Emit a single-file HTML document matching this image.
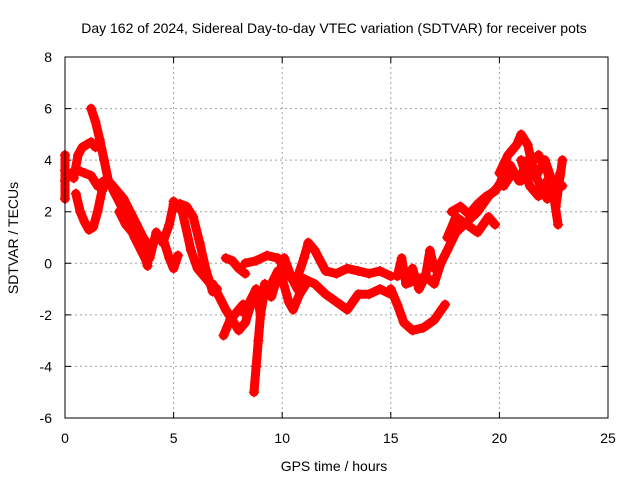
<!DOCTYPE html>
<html><head><meta charset="utf-8"><style>
body{margin:0;background:#fff;font-family:"Liberation Sans",sans-serif}
svg text{font-family:"Liberation Sans",sans-serif;font-size:14px;fill:#000}
</style></head><body>
<svg id="chart" width="640" height="480">
<rect width="640" height="480" fill="#fff"/>
<text x="334" y="33" text-anchor="middle">Day 162 of 2024, Sidereal Day-to-day VTEC variation (SDTVAR) for receiver pots</text>
<text x="334" y="471" text-anchor="middle">GPS time / hours</text>
<text transform="translate(18,238) rotate(-90)" text-anchor="middle">SDTVAR / TECUs</text>
<g id="grid"></g><g id="series"></g>
<rect x="65" y="57" width="543" height="361" fill="none" stroke="#000" stroke-width="1"/>
</svg>
<script>
const xTicks=[0,5,10,15,20,25];
const yTicks=[-6,-4,-2,0,2,4,6,8];
const t0x=[0,0,0,0];
const t0y=[4.2,3.6,3.2,2.5];
const t1x=[0.4,0.6,0.8,1.0,1.2,1.4];
const t1y=[3.3,4.2,4.5,4.6,4.7,4.5];
const t2x=[1.2,1.4,1.6,1.8,2.0,2.3,2.6,2.9,3.2,3.5,3.8];
const t2y=[6.0,5.5,4.8,4.0,3.2,2.7,2.2,1.6,1.0,0.5,0.0];
const t3x=[0.3,0.6,0.9,1.2,1.5,1.8,2.1,2.4,2.7,3.0,3.3,3.6,3.9];
const t3y=[3.5,3.6,3.5,3.4,3.0,3.2,3.1,2.8,2.5,2.0,1.5,1.0,0.6];
const t4x=[0.5,0.7,0.9,1.1,1.3,1.5,1.7,1.9];
const t4y=[2.7,2.0,1.6,1.3,1.4,2.0,2.8,3.2];
const t5x=[2.5,2.8,3.1,3.4,3.6,3.8];
const t5y=[2.0,1.5,1.2,1.0,0.5,-0.1];
const t6x=[3.9,4.2,4.5,4.8,5.0,5.3,5.6,5.9,6.2,6.5,6.8];
const t6y=[0.2,1.2,0.8,1.5,2.3,2.3,2.2,1.8,0.8,-0.3,-1.1];
const t7x=[4.5,4.8,5.0,5.2];
const t7y=[1.0,0.2,-0.2,0.3];
const t8x=[5.0,5.4,5.8,6.1,6.4,6.7,7.0];
const t8y=[2.4,2.0,0.5,-0.2,-0.5,-0.8,-1.0];
const t9x=[7.4,7.7,8.0,8.3];
const t9y=[0.2,0.1,-0.2,-0.4];
const t10x=[6.8,7.1,7.4,7.7,8.0,8.3,8.6];
const t10y=[-0.8,-1.3,-1.8,-2.2,-2.6,-2.3,-1.5];
const t11x=[7.3,7.6,7.9,8.2];
const t11y=[-2.8,-2.2,-1.9,-1.6];
const t12x=[8.2,8.5,8.8,9.0,9.2,9.5,9.8,10.0,10.3,10.5,10.8,11.1];
const t12y=[-1.9,-1.5,-1.0,-2.0,-1.0,-0.8,-0.3,-0.6,-1.5,-1.8,-1.2,-0.8];
const t13x=[8.7,8.8,8.9,9.0,9.1,9.2];
const t13y=[-5.0,-4.0,-3.0,-2.0,-1.3,-0.8];
const t14x=[8.3,8.8,9.3,9.8,10.2,10.6,11.0,11.2,11.5,12.0,12.5,13.0,13.5,14.0,14.5,15.0];
const t14y=[0.0,0.1,0.3,0.2,-0.3,-0.8,0.2,0.8,0.5,-0.3,-0.4,-0.2,-0.3,-0.4,-0.3,-0.5];
const t15x=[9.5,9.8,10.1,10.4,10.7,11.0,11.5,12.0,12.5,13.0,13.5,14.0,14.5,15.0];
const t15y=[-1.3,-0.5,0.2,-0.5,-1.0,-0.6,-0.8,-1.2,-1.5,-1.8,-1.2,-1.2,-1.0,-1.2];
const t16x=[15.0,15.3,15.6,16.0,16.5,17.0,17.5];
const t16y=[-1.0,-1.6,-2.3,-2.6,-2.5,-2.2,-1.6];
const t17x=[15.5,15.8,16.0,16.3,16.6,17.0,17.3,17.6,18.0,18.5,19.0,19.5,20.0,20.3];
const t17y=[-0.3,-0.6,-0.2,-1.0,-0.5,-0.8,0.0,0.5,1.2,1.6,2.0,2.6,3.0,3.8];
const t18x=[17.6,18.0,18.5,19.0,19.5,19.8];
const t18y=[1.0,1.8,1.5,1.2,1.8,1.5];
const t22x=[17.8,18.2,18.6,19.0,19.4,19.8,20.1];
const t22y=[2.0,2.2,1.9,2.3,2.6,2.8,3.2];
const t19x=[20.0,20.4,20.8,21.0,21.3,21.6,21.9,22.2,22.5,22.8];
const t19y=[3.5,4.2,4.6,5.0,4.6,3.5,3.0,2.5,2.6,3.5];
const t20x=[20.2,20.6,21.0,21.4,21.8,22.2,22.6,22.9];
const t20y=[3.0,3.5,3.2,3.8,4.2,3.6,2.2,4.0];
const t21x=[21.0,21.4,21.8,22.2,22.5,22.7];
const t21y=[4.0,3.0,2.6,3.2,2.6,1.5];
const t23x=[20.5,20.9,21.3,21.7,22.1,22.5,22.9];
const t23y=[3.8,3.2,4.0,3.4,4.0,3.0,3.0];
const t24x=[15.3,15.5,15.7,16.6,16.8,17.0];
const t24y=[-0.5,0.2,-0.8,-0.5,0.5,-0.2];
const traceXs=[t0x,t1x,t2x,t3x,t4x,t5x,t6x,t7x,t8x,t9x,t10x,t11x,t12x,t13x,t14x,t15x,t16x,t17x,t18x,t22x,t19x,t20x,t21x,t23x,t24x];
const traceYs=[t0y,t1y,t2y,t3y,t4y,t5y,t6y,t7y,t8y,t9y,t10y,t11y,t12y,t13y,t14y,t15y,t16y,t17y,t18y,t22y,t19y,t20y,t21y,t23y,t24y];
const NS='http://www.w3.org/2000/svg';
const L=65,R=608,T=57,B=418;
function sx(v){return L+(v-0)/(25-0)*(R-L);}
function sy(v){return B-(v+6)/(8+6)*(B-T);}
const grid=document.getElementById('grid');
xTicks.forEach(v=>{
 const x=sx(v);
 if(v>0&&v<25){const g=document.createElementNS(NS,'line');
 
 
 g.setAttribute('x1',x);g.setAttribute('x2',x);g.setAttribute('y1',T);g.setAttribute('y2',B);
 g.setAttribute('stroke','#a0a0a0');g.setAttribute('stroke-dasharray','2,3');grid.appendChild(g);}
 const tk=document.createElementNS(NS,'path');
 
 
 tk.setAttribute('d',`M${x},${B}v-6M${x},${T}v6`);tk.setAttribute('stroke','#000');grid.appendChild(tk);
 const t=document.createElementNS(NS,'text');
 
 
 t.setAttribute('x',x);t.setAttribute('y',443);t.setAttribute('text-anchor','middle');t.textContent=v;grid.appendChild(t);
});
yTicks.forEach(v=>{
 const y=sy(v);
 if(v>-6&&v<8){const g=document.createElementNS(NS,'line');
 
 
 g.setAttribute('x1',L);g.setAttribute('x2',R);g.setAttribute('y1',y);g.setAttribute('y2',y);
 g.setAttribute('stroke','#a0a0a0');g.setAttribute('stroke-dasharray','2,3');grid.appendChild(g);}
 const tk=document.createElementNS(NS,'path');
 
 
 tk.setAttribute('d',`M${L},${y}h6M${R},${y}h-6`);tk.setAttribute('stroke','#000');grid.appendChild(tk);
 const t=document.createElementNS(NS,'text');
 
 
 t.setAttribute('x',52);t.setAttribute('y',y+5);t.setAttribute('text-anchor','end');t.textContent=v;grid.appendChild(t);
});
const ser=document.getElementById('series');
traceXs.forEach((xs,i)=>{
 const ys=traceYs[i];
 const pts=xs.map((x,j)=>sx(x)+','+sy(ys[j])).join(' ');
 const pl=document.createElementNS(NS,'polyline');
 
 
 pl.setAttribute('points',pts);pl.setAttribute('fill','none');pl.setAttribute('stroke','#ff0000');
 pl.setAttribute('stroke-width','9');pl.setAttribute('stroke-linejoin','round');pl.setAttribute('stroke-linecap','round');
 ser.appendChild(pl);
 xs.forEach((x,j)=>{
  const m=document.createElementNS(NS,'path');
  
  
  const px=sx(x),py=sy(ys[j]);
  m.setAttribute('d',`M${px-5},${py}h10M${px},${py-5}v10`);m.setAttribute('stroke','#ff0000');m.setAttribute('stroke-width','1.5');
  ser.appendChild(m);
 });
});
</script>
</body></html>
